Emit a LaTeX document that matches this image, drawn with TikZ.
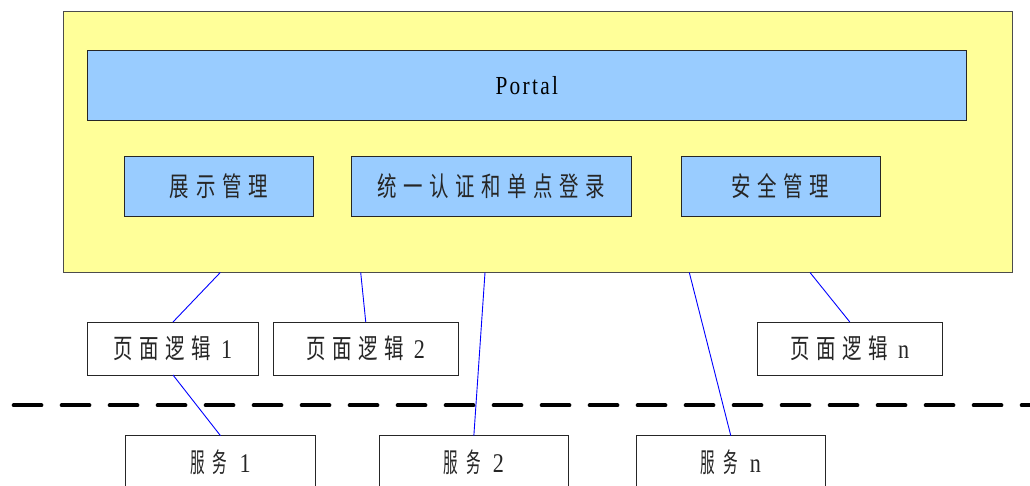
\documentclass[tikz,border=0pt]{standalone}
\usepackage{fontspec}
\setmainfont{Liberation Serif}
\newfontfamily\cjk[FakeStretch=0.72]{Noto Sans CJK SC}
\newfontfamily\cjknarrow[FakeStretch=0.54]{Noto Sans CJK SC}
\newfontfamily\latn[FakeStretch=0.82]{Liberation Serif}
\definecolor{paleyellow}{HTML}{FFFF99}
\definecolor{paleblue}{HTML}{99CCFF}
\newcommand{\gp}{\hspace{6.6pt}}
\newcommand{\ngp}{\hspace{8pt}}
\begin{document}
\begin{tikzpicture}[x=1pt,y=-1pt,
  box/.style={draw=black!85, line width=0.9pt, anchor=north west, inner sep=0pt, outer sep=0pt, align=center},
  areabox/.style={box, fill=paleyellow, draw=black!70},
  bluebox/.style={box, fill=paleblue},
  whitebox/.style={box, fill=white},
  lbl/.style={font=\fontsize{27}{30}\selectfont\cjk, text=black!85},
  nlbl/.style={font=\fontsize{27}{30}\selectfont\cjknarrow, text=black!85},
  link/.style={draw=blue, line width=0.9pt},
  sep/.style={draw=black, line width=4pt, dash pattern=on 27.7pt off 20.3pt, line cap=round}]
\useasboundingbox (0,0) rectangle (1030,486);
\clip (0,0) rectangle (1030,486);
% top area
\node[areabox, minimum width=949pt, minimum height=261pt] (area) at (63,11.5) {};
\node[bluebox, minimum width=878.5pt, minimum height=70.5pt, font=\fontsize{26}{30}\selectfont\latn] (portal) at (87.5,50) {P\hspace{2.3pt}o\hspace{2.3pt}r\hspace{2.3pt}t\hspace{2.3pt}a\hspace{2.3pt}l};
\node[bluebox, lbl, minimum width=189.5pt, minimum height=60.5pt] (show) at (124,156) {展\gp 示\gp 管\gp 理};
\node[bluebox, lbl, minimum width=280pt, minimum height=60.5pt] (sso) at (351,156) {统\gp 一\gp 认\gp 证\gp 和\gp 单\gp 点\gp 登\gp 录};
\node[bluebox, lbl, minimum width=199pt, minimum height=60.5pt] (sec) at (681,156) {安\gp 全\gp 管\gp 理};
% page logic
\node[whitebox, lbl, minimum width=171pt, minimum height=53pt] (pl1) at (87.5,322) {页\gp 面\gp 逻\gp 辑\hspace{10pt}{\latn 1}};
\node[whitebox, lbl, minimum width=184.5pt, minimum height=53pt] (pl2) at (273.5,322) {页\gp 面\gp 逻\gp 辑\hspace{10pt}{\latn 2}};
\node[whitebox, lbl, minimum width=185pt, minimum height=53pt] (pln) at (757.3,322) {页\gp 面\gp 逻\gp 辑\hspace{10pt}{\latn n}};
% separator
\coordinate (sepL) at (13.7,405.3);
\coordinate (sepR) at (1045,405.3);
\draw[sep] (sepL) -- (sepR);
% services
\node[whitebox, nlbl, minimum width=189.6pt, minimum height=54pt] (sv1) at (125.7,435.7) {服\ngp 务\hspace{12pt}{\latn 1}};
\node[whitebox, nlbl, minimum width=188.3pt, minimum height=54pt] (sv2) at (379.7,435.7) {服\ngp 务\hspace{12pt}{\latn 2}};
\node[whitebox, nlbl, minimum width=189pt, minimum height=54pt] (svn) at (636.3,435.7) {服\ngp 务\hspace{12pt}{\latn n}};
% connectors
\draw[link] ([xshift=157.3pt]area.south west) -- (pl1.north);
\draw[link] ([xshift=297.7pt]area.south west) -- (pl2.north);
\draw[link] ([xshift=422pt]area.south west) -- (sv2.north);
\draw[link] ([xshift=626.3pt]area.south west) -- (svn.north);
\draw[link] ([xshift=747pt]area.south west) -- (pln.north);
\draw[link] (pl1.south) -- (sv1.north);
\end{tikzpicture}
\end{document}
